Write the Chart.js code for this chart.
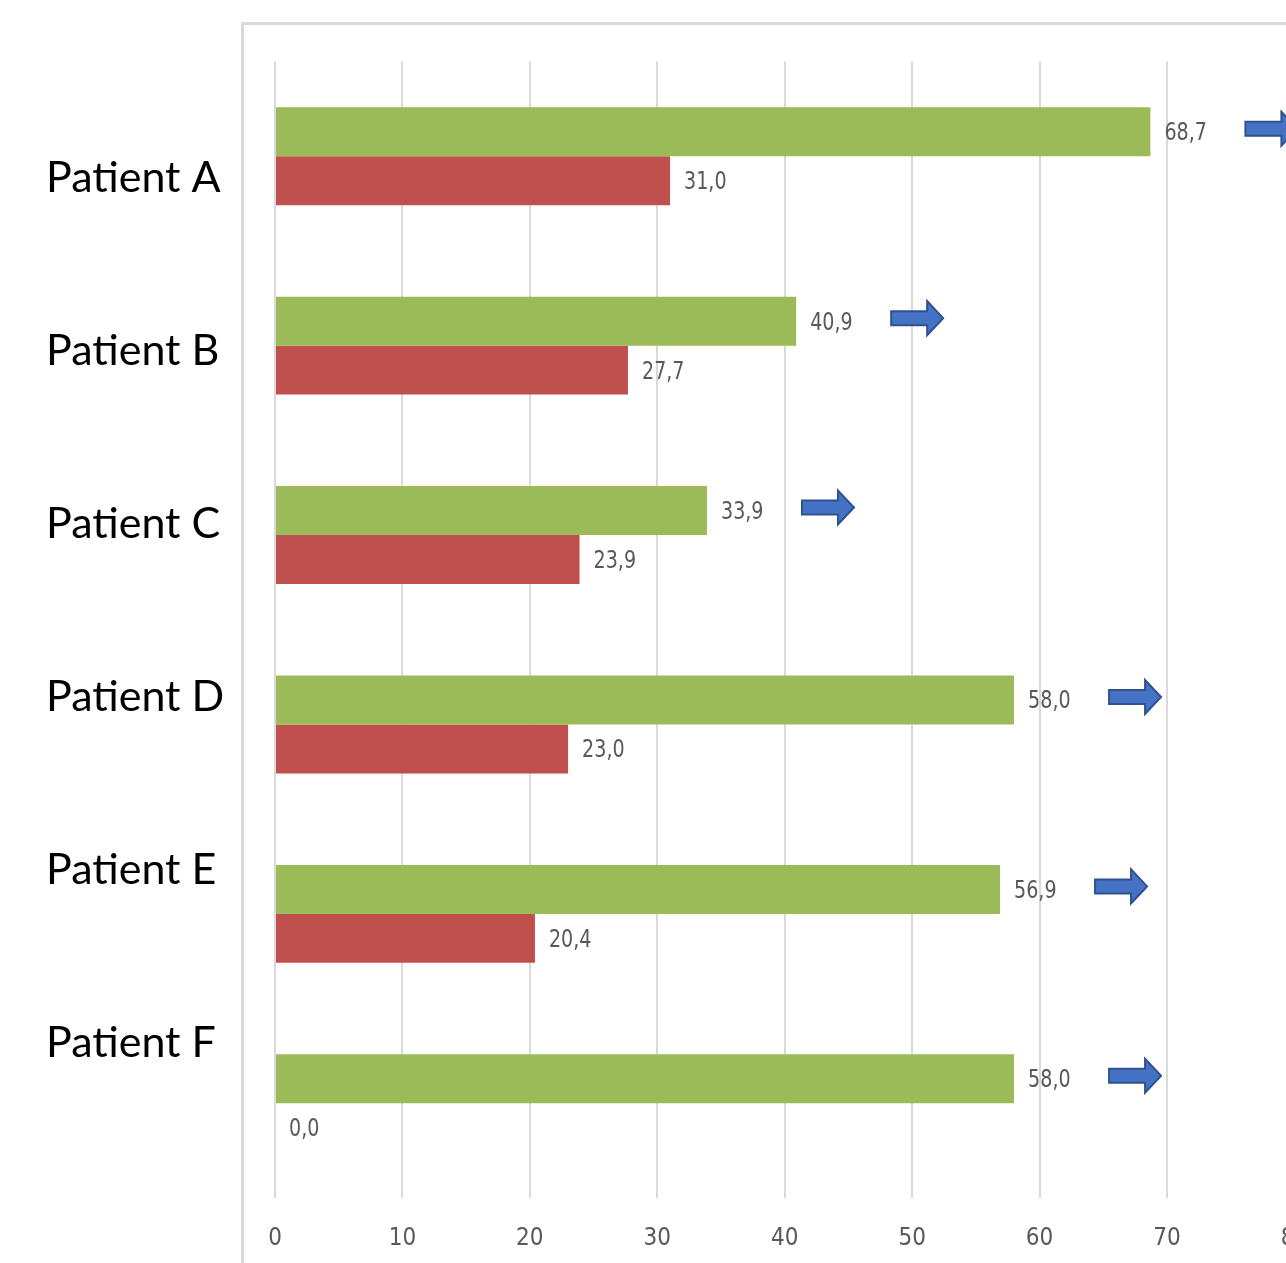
<!DOCTYPE html>
<html>
<head>
<meta charset="utf-8">
<script src="https://cdn.jsdelivr.net/npm/chart.js@4/dist/chart.umd.min.js"></script>
<style>
  html, body { margin: 0; padding: 0; background: #ffffff; overflow: hidden; }
  #wrap { position: absolute; left: 0; top: 0; width: 1320px; height: 1263px; }
</style>
</head>
<body>
<div id="wrap"><canvas id="chart" width="1320" height="1263"></canvas></div>
<script>
// Patients and the two measured series (values shown with a decimal comma)
const patients = ['Patient A', 'Patient B', 'Patient C', 'Patient D', 'Patient E', 'Patient F'];
const greenValues = [68.7, 40.9, 33.9, 58.0, 56.9, 58.0];
const redValues = [31.0, 27.7, 23.9, 23.0, 20.4, 0.0];
const xTicks = [0, 10, 20, 30, 40, 50, 60, 70, 80];

const GREEN = '#9BBB59';
const RED = '#C0504D';
const GRID = '#d9d9d9';
const LABEL_GRAY = '#595959';
const NARROW = '"Liberation Sans Narrow", "DejaVu Sans Condensed", "Roboto", sans-serif';

function fmt(v) {
  return v.toFixed(1).replace('.', ',');
}

// Outer frame of the chart box
const framePlugin = {
  id: 'frame',
  beforeDraw(chart) {
    const ctx = chart.ctx;
    ctx.save();
    ctx.strokeStyle = '#d9d9d9';
    ctx.lineWidth = 3;
    ctx.strokeRect(242.5, 23.5, 1200, 1400);
    ctx.restore();
  }
};

// Patient names on the left
const namesPlugin = {
  id: 'names',
  afterDraw(chart) {
    const ctx = chart.ctx;
    ctx.save();
    ctx.font = '43px Lato, "Open Sans", sans-serif';
    ctx.fillStyle = '#000000';
    ctx.textAlign = 'left';
    ctx.textBaseline = 'middle';
    patients.forEach((name, i) => {
      ctx.fillText(name, 46, 178 + i * 173);
    });
    ctx.restore();
  }
};

// Value labels at bar ends and arrows after the green bars
const valuesPlugin = {
  id: 'values',
  afterDatasetsDraw(chart) {
    const ctx = chart.ctx;
    ctx.save();
    ctx.font = '25px ' + NARROW;
    ctx.fillStyle = LABEL_GRAY;
    ctx.textAlign = 'left';
    ctx.textBaseline = 'middle';
    chart.data.datasets.forEach((ds, di) => {
      const meta = chart.getDatasetMeta(di);
      meta.data.forEach((bar, i) => {
        ctx.save();
        ctx.translate(bar.x + 14, bar.y + 2);
        ctx.scale(0.85, 1);
        ctx.fillText(fmt(ds.data[i]), 0, 0);
        ctx.restore();
      });
    });

    // arrows
    const gMeta = chart.getDatasetMeta(0);
    gMeta.data.forEach((bar) => {
      const x0 = bar.x + 95;
      const cy = bar.y - 3;
      const len = 52, shaftH = 14, headH = 34, headL = 16;
      ctx.beginPath();
      ctx.moveTo(x0, cy - shaftH / 2);
      ctx.lineTo(x0 + len - headL, cy - shaftH / 2);
      ctx.lineTo(x0 + len - headL, cy - headH / 2);
      ctx.lineTo(x0 + len, cy);
      ctx.lineTo(x0 + len - headL, cy + headH / 2);
      ctx.lineTo(x0 + len - headL, cy + shaftH / 2);
      ctx.lineTo(x0, cy + shaftH / 2);
      ctx.closePath();
      ctx.fillStyle = '#4472C4';
      ctx.fill();
      ctx.strokeStyle = '#2F528F';
      ctx.lineWidth = 2;
      ctx.stroke();
    });
    ctx.restore();
  }
};

new Chart(document.getElementById('chart'), {
  type: 'bar',
  data: {
    labels: patients,
    datasets: [
      { label: 'Green', data: greenValues, backgroundColor: GREEN, categoryPercentage: 0.517, barPercentage: 1.0 },
      { label: 'Red', data: redValues, backgroundColor: RED, categoryPercentage: 0.517, barPercentage: 1.0 }
    ]
  },
  options: {
    indexAxis: 'y',
    responsive: false,
    animation: false,
    layout: { padding: { left: 275, right: 25.6, top: 61.5, bottom: 0 } },
    plugins: { legend: { display: false }, tooltip: { enabled: false } },
    scales: {
      y: { display: false },
      x: {
        min: xTicks[0],
        max: xTicks[xTicks.length - 1],
        afterBuildTicks(scale) { scale.ticks = xTicks.map(v => ({ value: v })); },
        afterFit(scale) {
          scale.height = 65;
          scale.paddingLeft = 0;
          scale.paddingRight = 0;
        },
        grid: { color: GRID, lineWidth: 2, drawTicks: false },
        border: { display: false },
        ticks: { color: LABEL_GRAY, font: { family: NARROW, size: 24 }, padding: 26 }
      }
    }
  },
  plugins: [framePlugin, namesPlugin, valuesPlugin]
});
</script>
</body>
</html>
